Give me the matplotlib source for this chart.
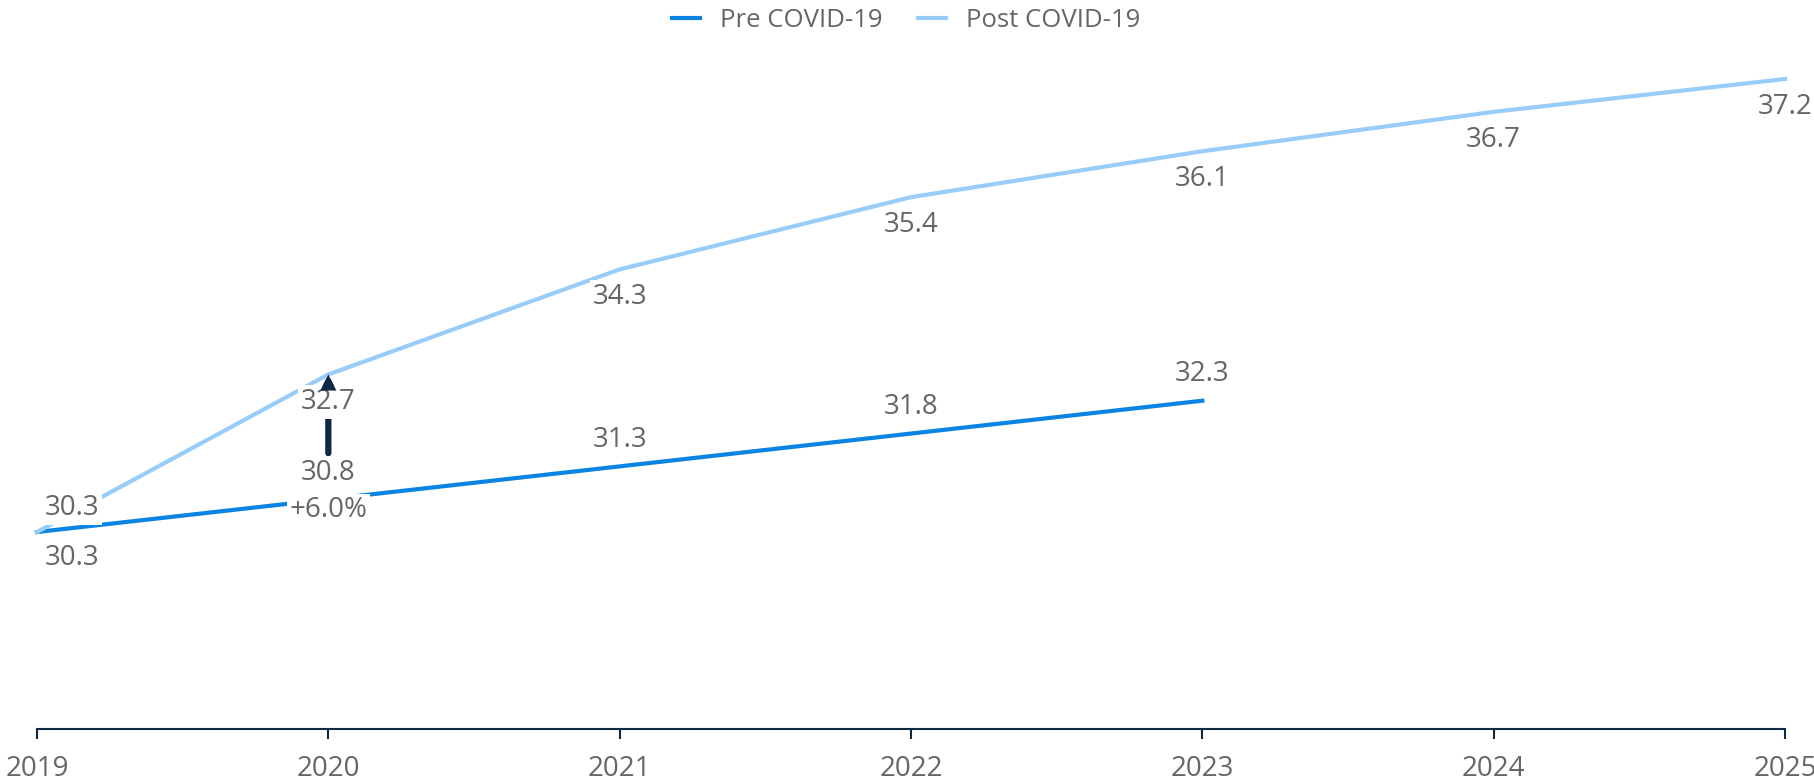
import matplotlib.pyplot as plt

plt.rcParams['font.family'] = ['Open Sans', 'DejaVu Sans']

years = [2019, 2020, 2021, 2022, 2023, 2024, 2025]
pre_years = [2019, 2020, 2021, 2022, 2023]
pre_vals = [30.3, 30.8, 31.3, 31.8, 32.3]
post_vals = [30.3, 32.7, 34.3, 35.4, 36.1, 36.7, 37.2]
change_label = "+6.0%"

pre_col = "#0a84e3"
post_col = "#99cdf9"
navy = "#0f2942"
grey = "#666666"

fig = plt.figure(figsize=(18.15, 7.81), dpi=100)
ax = fig.add_axes([37 / 1815, 1 - 729 / 781, 1748 / 1815, 650 / 781])
ax.set_xlim(2019, 2025)
ax.set_ylim(27.3, 37.2)

ax.plot(pre_years, pre_vals, color=pre_col, lw=3, label="Pre COVID-19", clip_on=False, zorder=2)
ax.plot(years, post_vals, color=post_col, lw=3, label="Post COVID-19", clip_on=False, zorder=2)

box = dict(boxstyle="square,pad=0.1", fc="white", ec="none")
kw = dict(ha="center", va="center", fontsize=20, color=grey, textcoords="offset points",
          bbox=box, zorder=5, annotation_clip=False)

# post labels below the line, first one above
for i, (x, v) in enumerate(zip(years, post_vals)):
    if i == 0:
        ax.annotate(f"{v}", (x, v), xytext=(25, 17), **kw)
    else:
        ax.annotate(f"{v}", (x, v), xytext=(0, -20), **kw)

# pre labels above the line, first one below
for i, (x, v) in enumerate(zip(pre_years, pre_vals)):
    if i == 0:
        ax.annotate(f"{v}", (x, v), xytext=(25, -19), **kw)
    else:
        ax.annotate(f"{v}", (x, v), xytext=(0, 19), **kw)

ax.annotate(change_label, (2020, pre_vals[1]), xytext=(0, -8), **kw)

# arrow shaft (partly hidden by the label) and the head drawn again on top
ax.annotate("", xy=(2020, post_vals[1]), xytext=(2020, 31.5),
            arrowprops=dict(arrowstyle="-|>", lw=4.5, color=navy, mutation_scale=29,
                            shrinkA=0, shrinkB=0), zorder=4)
ax.annotate("", xy=(2020, post_vals[1]), xytext=(2020, 32.45),
            arrowprops=dict(arrowstyle="-|>", lw=0, color=navy, mutation_scale=29,
                            shrinkA=0, shrinkB=0), zorder=6)

for s in ["top", "right", "left"]:
    ax.spines[s].set_visible(False)
ax.spines["bottom"].set_color(navy)
ax.spines["bottom"].set_linewidth(1.5)
ax.set_yticks([])
ax.set_xticks(years)
ax.tick_params(axis="x", length=7, width=1.5, color=navy, labelsize=20, labelcolor=grey, pad=12)

fig.legend(loc="upper center", bbox_to_anchor=(906 / 1815, 1.02), ncol=2, frameon=False,
           fontsize=18.5, labelcolor=grey, handlelength=1.1, columnspacing=1.4, handletextpad=0.75)

fig.savefig("out.png", dpi=100)
